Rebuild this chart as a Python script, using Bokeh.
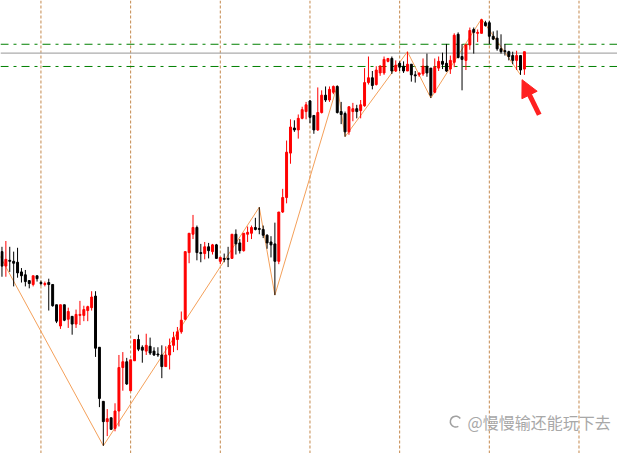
from bokeh.plotting import figure
from bokeh.models import ColumnDataSource, Range1d, Span, Arrow, NormalHead
from bokeh.core.properties import value
from bokeh.embed import file_html
from bokeh.resources import INLINE

# ---- data (price units) ----
opens = [209, 194, 200, 199, 198, 188, 185, 179, 175, 184,
         177, 175, 177, 175, 154, 132, 154, 139, 142, 134,
         143, 143, 148, 151, 163, 110, 54, 33, 37, 26,
         44, 89, 95, 65, 96, 118, 110, 106, 111, 106,
         103, 102, 90, 102, 112, 118, 126, 139, 208, 227,
         234, 208, 207, 214, 209, 216, 199, 202, 202, 202,
         227, 218, 210, 227, 228, 234, 233, 232, 226, 219,
         217, 199, 250, 265, 311, 337, 335, 347, 354, 365,
         350, 335, 353, 371, 366, 374, 380, 354, 352, 333,
         354, 357, 355, 360, 384, 389, 382, 394, 394, 406,
         409, 396, 404, 401, 396, 403, 392, 392, 393, 401,
         399, 374, 399, 406, 404, 398, 405, 434, 411, 407,
         423, 439, 435, 435, 446, 446, 432, 430, 419, 417,
         416, 412, 407, 412, 398]
closes = [194, 201, 199, 197, 187, 184, 178, 176, 184, 181,
          176, 176, 175, 153, 137, 154, 138, 147, 134, 144,
          144, 149, 152, 162, 109, 57, 33, 36, 25, 44,
          89, 95, 72, 97, 118, 108, 107, 112, 104, 102,
          102, 90, 102, 112, 120, 126, 138, 209, 228, 234,
          208, 207, 214, 210, 216, 202, 203, 201, 201, 227,
          217, 210, 228, 229, 234, 232, 232, 226, 218, 216,
          199, 250, 265, 312, 338, 335, 347, 356, 361, 348,
          335, 353, 371, 366, 377, 380, 353, 351, 333, 359,
          357, 354, 361, 384, 389, 381, 397, 401, 408, 409,
          396, 402, 400, 396, 403, 392, 391, 394, 401, 394,
          371, 400, 406, 403, 396, 407, 433, 410, 408, 423,
          438, 436, 436, 449, 443, 432, 429, 419, 416, 416,
          411, 407, 412, 397, 416]
highs = [214, 220, 214, 209, 213, 192, 190, 179, 184, 184,
         179, 178, 181, 175, 154, 154, 154, 151, 142, 149,
         158, 153, 153, 168, 168, 110, 54, 46, 37, 52,
         102, 105, 99, 97, 118, 123, 112, 124, 120, 110,
         110, 112, 111, 119, 126, 131, 147, 209, 228, 247,
         236, 217, 219, 218, 217, 217, 203, 207, 214, 227,
         232, 222, 228, 235, 236, 244, 255, 236, 227, 225,
         239, 250, 274, 324, 346, 345, 351, 359, 364, 366,
         350, 379, 376, 380, 380, 381, 381, 364, 354, 359,
         363, 361, 366, 399, 411, 396, 401, 402, 411, 409,
         411, 407, 406, 406, 416, 403, 396, 394, 409, 414,
         399, 409, 411, 415, 424, 412, 435, 436, 424, 424,
         441, 441, 439, 450, 448, 448, 437, 438, 434, 424,
         417, 416, 417, 412, 416]
lows = [183, 183, 188, 173, 182, 177, 173, 171, 173, 178,
        174, 173, 148, 152, 135, 129, 137, 130, 123, 130,
        133, 137, 137, 148, 100, 48, 8, 18, 25, 23,
        28, 65, 71, 65, 96, 106, 94, 102, 102, 101,
        100, 78, 90, 87, 105, 107, 124, 138, 197, 222,
        200, 198, 201, 202, 206, 202, 196, 198, 193, 202,
        206, 207, 209, 219, 222, 231, 227, 223, 212, 203,
        164, 196, 249, 259, 300, 333, 326, 346, 346, 342,
        331, 334, 352, 364, 364, 372, 352, 341, 328, 330,
        344, 347, 347, 359, 382, 377, 381, 391, 392, 405,
        393, 395, 396, 394, 396, 385, 384, 390, 391, 390,
        368, 373, 396, 398, 395, 393, 400, 409, 376, 397,
        418, 414, 426, 435, 442, 424, 428, 417, 414, 412,
        407, 403, 397, 392, 392]

zigzag_idx = [-1, 26, 66, 70, 86, 88, 104, 110, 123, 133]
zigzag_price = [208, 8, 255, 164, 381, 328, 416, 368, 450, 392]

grid_idx = [10, 33, 56, 79, 102, 125, 148]
green_levels = [423.7, 400.7]
gray_levels = [414.5]

watermark = "@慢慢输还能玩下去"

# ---- build ----
n = min(len(opens), len(closes), len(highs), len(lows))
idx = list(range(n))
colors = ["#ff0000" if closes[i] >= opens[i] else "#000000" for i in idx]
tops = [max(opens[i], closes[i]) for i in idx]
bots = [min(opens[i], closes[i]) for i in idx]
src = ColumnDataSource(dict(x=idx, o=opens[:n], c=closes[:n], h=highs[:n], l=lows[:n],
                            top=tops, bot=bots, color=colors))

p = figure(width=617, height=453, output_backend="svg", toolbar_location=None,
           x_range=Range1d(-0.375, 157.875), y_range=Range1d(0, 469),
           x_axis_location=None, y_axis_location=None, min_border=0)
p.grid.visible = False
p.outline_line_color = None
p.background_fill_color = "white"

for g in grid_idx:
    p.add_layout(Span(location=g, dimension="height", line_color="#c4884c",
                      line_width=1, line_dash="3 2", level="underlay"))
for lv in gray_levels:
    p.add_layout(Span(location=lv, dimension="width", line_color="#ababab",
                      line_width=1.2, level="underlay"))
for lv in green_levels:
    p.add_layout(Span(location=lv, dimension="width", line_color="#008000",
                      line_width=1, line_dash="8 5 3 5", level="underlay"))

p.line(zigzag_idx, zigzag_price, line_color="#f4a05a", line_width=1)

p.segment(x0="x", y0="l", x1="x", y1="h", line_color="color", line_width=1, source=src)
p.vbar(x="x", width=0.5, top="top", bottom="bot", fill_color="color",
       line_color="color", line_width=1, source=src)

# red pointer arrow near the last candle
p.add_layout(Arrow(end=NormalHead(size=17, fill_color="#ff2020", line_color="#ff2020"),
                   x_start=137.8, y_start=350.7, x_end=133.4, y_end=387.0,
                   line_color="#ff2020", line_width=5))

# watermark
p.arc(x=[116.4], y=[33], radius=1.4, start_angle=0.6, end_angle=5.2,
      line_color="#a0a0a0", line_width=1.5)
p.text(x=[119.4], y=[33], text=[watermark], text_font=value("Noto Sans CJK SC"),
       text_font_size="16px", text_color="#a8a8a8", text_baseline="middle",
       text_align="left")

open("out.html", "w").write(file_html(p, INLINE))
